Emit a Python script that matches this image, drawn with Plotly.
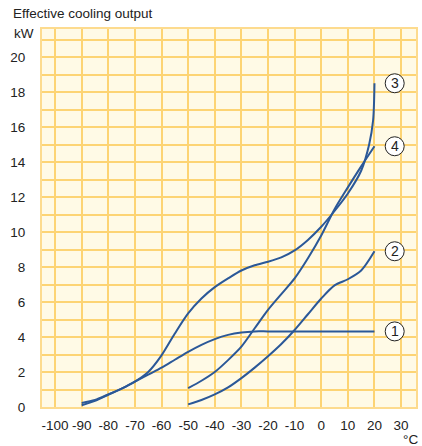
import plotly.graph_objects as go

# Temperature grid (°C) and cooling output (kW) for the four units
temp_1 = [-90, -85, -80, -75, -70, -65, -60, -55, -50, -45, -40, -35, -30, -25, -20, -10, 0, 10, 20]
kw_1 = [0.1, 0.35, 0.7, 1.05, 1.45, 1.85, 2.25, 2.7, 3.15, 3.55, 3.88, 4.12, 4.26, 4.32, 4.32, 4.32, 4.32, 4.32, 4.32]

temp_2 = [-50, -45, -40, -35, -30, -25, -20, -15, -10, -5, 0, 5, 10, 15, 20]
kw_2 = [0.15, 0.4, 0.72, 1.12, 1.65, 2.25, 2.9, 3.6, 4.4, 5.3, 6.2, 6.95, 7.3, 7.8, 8.9]

temp_3 = [-90, -85, -80, -75, -70, -65, -60, -55, -50, -45, -40, -35, -30, -25, -20, -15,
          -10, -5, 0, 5, 10, 15, 18, 19.5, 20]
kw_3 = [0.23, 0.4, 0.72, 1.05, 1.45, 2.0, 2.95, 4.2, 5.35, 6.2, 6.85, 7.35, 7.8, 8.1, 8.3, 8.55,
        8.95, 9.55, 10.3, 11.2, 12.2, 13.5, 15.0, 16.4, 18.5]

temp_4 = [-50, -45, -40, -35, -30, -25, -20, -15, -10, -5, 0, 5, 10, 15, 20]
kw_4 = [1.08, 1.5, 2.0, 2.68, 3.45, 4.5, 5.55, 6.45, 7.35, 8.5, 9.8, 11.3, 12.55, 13.75, 14.9]

series = [("1", temp_1, kw_1), ("2", temp_2, kw_2), ("3", temp_3, kw_3), ("4", temp_4, kw_4)]

x_ticks = list(range(-100, 31, 10))
x_labels = [str(v) for v in x_ticks]  # plain hyphen-minus labels
y_ticks = list(range(0, 21, 2))
label_x = 27.6  # temperature position of the curve markers

LINE = "#2B5898"
GRID = "#FDD474"
BG = "#FFFAE6"
TXT = "#222222"
FONT = "Liberation Sans, Arial, sans-serif"

fig = go.Figure()
for name, t, k in series:
    fig.add_trace(go.Scatter(x=t, y=k, mode="lines", name=name,
                             line=dict(color=LINE, width=2, shape="spline", smoothing=0.8),
                             hoverinfo="skip"))

shapes = []
annotations = []
for name, t, k in series:
    shapes.append(dict(type="circle", xref="x", yref="y", xsizemode="pixel", ysizemode="pixel",
                       xanchor=label_x, yanchor=k[-1], x0=-9.5, x1=9.5, y0=-9.5, y1=9.5,
                       fillcolor="white", line=dict(color=TXT, width=1), layer="above"))
    annotations.append(dict(x=label_x, y=k[-1], xref="x", yref="y", text=name, showarrow=False,
                            font=dict(size=14, color=TXT, family=FONT)))

# headings placed in pixel terms, converted to paper coordinates below
W, H = 422, 446
L, R, T, B = 42, 4, 29, 39
pw, ph = W - L - R, H - T - B
headings = [
    (11, 14, "left", "Effective cooling output"),
    (12, 33, "left", "kW"),
    (422, 440, "right", "°C"),
]
for px, py, anchor, txt in headings:
    annotations.append(dict(x=(px - L) / pw, y=1 - (py - T) / ph, xref="paper", yref="paper",
                            xanchor=anchor, yanchor="middle", text=txt, showarrow=False,
                            font=dict(size=13.5, color=TXT, family=FONT)))

fig.update_layout(
    width=W, height=H,
    margin=dict(l=L, r=R, t=T, b=B, pad=0),
    paper_bgcolor="white", plot_bgcolor=BG,
    showlegend=False,
    font=dict(family=FONT, size=13.5, color=TXT),
    shapes=shapes, annotations=annotations,
    xaxis=dict(range=[-104.9, 35.6], tickvals=x_ticks, ticktext=x_labels, tickangle=0,
               showgrid=True, gridcolor=GRID, gridwidth=2, zeroline=False, showline=True,
               linecolor="#FDDB8E", linewidth=2, mirror=True, ticks="", ticklabelstandoff=5,
               tickfont=dict(size=13.5, color=TXT)),
    yaxis=dict(range=[0, 21.6], tickvals=y_ticks, showgrid=True, gridcolor=GRID, gridwidth=2,
               minor=dict(dtick=1, showgrid=True, gridcolor=GRID, gridwidth=2),
               zeroline=False, showline=True, linecolor="#FDDB8E", linewidth=2, mirror=True,
               ticks="", ticklabelstandoff=12, tickfont=dict(size=13.5, color=TXT)),
)

fig.write_html("out.html")
